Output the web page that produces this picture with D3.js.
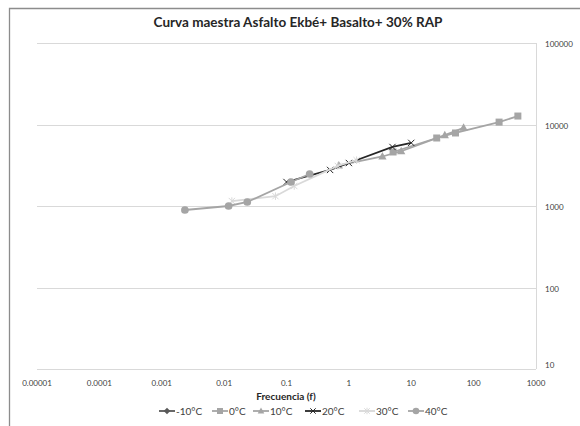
<!DOCTYPE html>
<html><head><meta charset="utf-8">
<script src="https://cdn.jsdelivr.net/npm/d3@7"></script>
<style>body{margin:0;background:#fff}svg{display:block}</style>
</head><body>
<svg id="c" width="580" height="426"></svg>
<script>
const title = "Curva maestra Asfalto Ekbé+ Basalto+ 30% RAP";
const xTitle = "Frecuencia (f)";
const xTicks = [1e-5, 1e-4, 1e-3, 1e-2, 1e-1, 1, 10, 100, 1000];
const xTickLabels = ["0.00001","0.0001","0.001","0.01","0.1","1","10","100","1000"];
const yTicks = [10, 100, 1000, 10000, 100000];
const yTickLabels = ["10","100","1000","10000","100000"];
const seriesNames = ["-10°C","0°C","10°C","20°C","30°C","40°C"];
const seriesColors = ["#595959","#a5a5a5","#a5a5a5","#262626","#d9d9d9","#a5a5a5"];
const seriesMarkers = ["diamond","square","triangle","cross","star","circle"];
// frequency (reduced) and modulus values per series
const fM10 = [], vM10 = [];
const f0 = [5.12, 25.6, 51.2, 256, 512];
const v0 = [4600, 6830, 7870, 10700, 12700];
const f10 = [0.69, 3.45, 6.9, 34.5, 69];
const v10 = [3150, 4050, 4700, 7400, 9100];
const f20 = [0.1, 0.5, 1, 5, 10];
const v20 = [1970, 2770, 3370, 5300, 5950];
const f30 = [0.0133, 0.0665, 0.133, 0.665, 1.33];
const v30 = [1150, 1320, 1760, 3100, 3650];
const f40 = [0.00235, 0.0118, 0.0235, 0.118, 0.235];
const v40 = [893, 1000, 1120, 1970, 2470];

const F = [fM10, f0, f10, f20, f30, f40];
const V = [vM10, v0, v10, v20, v30, v40];

const svg = d3.select("#c");
const x = d3.scaleLog().domain([1e-5, 1e3]).range([37, 536]);
const y = d3.scaleLog().domain([10, 1e5]).range([369, 43]);

// outer chart border (cropped)
svg.append("path").attr("d","M9.5,426 V8.5 H580").attr("fill","none").attr("stroke","#8c8c8c").attr("stroke-width",1.3);

// gridlines
svg.append("g").selectAll("line").data(yTicks).join("line")
  .attr("x1", x(1e-5)).attr("x2", x(1e3))
  .attr("y1", d => Math.round(y(d))+0.5).attr("y2", d => Math.round(y(d))+0.5)
  .attr("stroke","#d9d9d9").attr("stroke-width",1);
svg.append("line").attr("x1", Math.round(x(1e3))+0.5).attr("x2", Math.round(x(1e3))+0.5)
  .attr("y1", y(1e5)).attr("y2", y(10)).attr("stroke","#d9d9d9");

// axes tick labels
const font = "Lato, 'Open Sans', sans-serif";
svg.append("g").selectAll("text").data(xTicks).join("text")
  .attr("x", d => x(d)).attr("y", 386).attr("text-anchor","middle")
  .attr("font-family", font).attr("font-size", 8).attr("fill","#404040")
  .text((d,i) => xTickLabels[i]);
svg.append("g").selectAll("text").data(yTicks).join("text")
  .attr("x", 545).attr("y", (d,i) => y(d) + (i === 0 ? -1 : 4)).attr("text-anchor","start")
  .attr("font-family", font).attr("font-size", 8).attr("fill","#404040")
  .text((d,i) => yTickLabels[i]);

// titles
svg.append("text").attr("x", 298).attr("y", 27).attr("text-anchor","middle")
  .attr("font-family", font).attr("font-weight","bold").attr("font-size", 13.5).attr("fill","#262626").text(title);
svg.append("text").attr("x", 286).attr("y", 400).attr("text-anchor","middle")
  .attr("font-family", font).attr("font-weight","bold").attr("font-size", 10).attr("fill","#262626").text(xTitle);

function marker(g, type, color, cx, cy, s) {
  if (type === "circle") g.append("circle").attr("cx",cx).attr("cy",cy).attr("r",s*0.55).attr("fill",color);
  else if (type === "square") g.append("rect").attr("x",cx-s/2).attr("y",cy-s/2).attr("width",s).attr("height",s).attr("fill",color);
  else if (type === "triangle") g.append("path").attr("d",`M${cx},${cy-s*0.6}L${cx+s*0.55},${cy+s*0.4}L${cx-s*0.55},${cy+s*0.4}Z`).attr("fill",color);
  else if (type === "diamond") g.append("path").attr("d",`M${cx},${cy-s*0.55}L${cx+s*0.55},${cy}L${cx},${cy+s*0.55}L${cx-s*0.55},${cy}Z`).attr("fill",color);
  else if (type === "cross") { const h=s*0.45; g.append("path").attr("d",`M${cx-h},${cy-h}L${cx+h},${cy+h}M${cx-h},${cy+h}L${cx+h},${cy-h}`).attr("stroke",color).attr("stroke-width",1).attr("fill","none"); }
  else if (type === "star") { const h=s*0.45; g.append("path").attr("d",`M${cx-h},${cy-h}L${cx+h},${cy+h}M${cx-h},${cy+h}L${cx+h},${cy-h}M${cx},${cy-h*1.2}V${cy+h*1.2}`).attr("stroke",color).attr("stroke-width",1).attr("fill","none"); }
}

// series
const line = d3.line().x(d => x(d[0])).y(d => y(d[1]));
const sizes = [7, 7, 7.5, 7, 7, 7];
seriesNames.forEach((name, i) => {
  const pts = F[i].map((f, j) => [f, V[i][j]]);
  const g = svg.append("g");
  if (pts.length) {
    g.append("path").attr("d", line(pts)).attr("fill","none").attr("stroke", seriesColors[i]).attr("stroke-width", 1.8);
    pts.forEach(p => marker(g, seriesMarkers[i], seriesColors[i], x(p[0]), y(p[1]), sizes[i]));
  }
});

// legend
const legendX = [159, 212, 253, 305, 359, 408];
const lg = svg.append("g");
seriesNames.forEach((name, i) => {
  const lx = legendX[i], ly = 411;
  lg.append("line").attr("x1", lx).attr("x2", lx + 16).attr("y1", ly).attr("y2", ly)
    .attr("stroke", seriesColors[i]).attr("stroke-width", 1.8);
  marker(lg, seriesMarkers[i], seriesColors[i], lx + 8, ly, 6);
  lg.append("text").attr("x", lx + 17).attr("y", ly + 3.5).attr("font-family", font).attr("font-size", 10)
    .attr("fill","#404040").text(name);
});
</script>
</body></html>
